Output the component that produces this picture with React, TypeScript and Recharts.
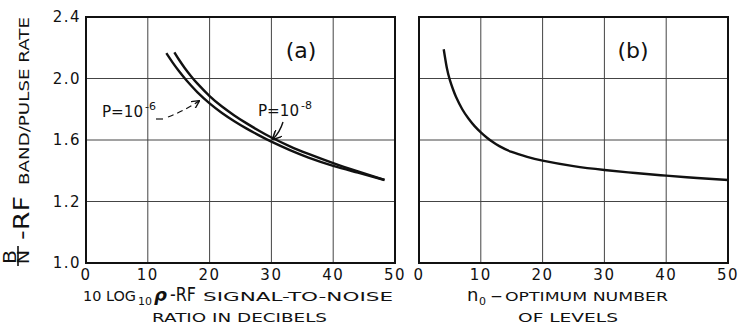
import { LineChart, Line, XAxis, YAxis, CartesianGrid, ReferenceArea } from 'recharts';

// panel (a): RF band/pulse rate vs RF signal-to-noise ratio (dB)
const snrP6 = [13, 14, 15, 16, 17, 18, 20, 22, 24, 26, 28, 30, 33, 36, 40, 44, 48.3];
const rateP6 = [2.165, 2.105, 2.05, 2.0, 1.954, 1.912, 1.838, 1.776, 1.722, 1.674, 1.63, 1.589, 1.534, 1.486, 1.432, 1.388, 1.34];
const snrP8 = [14.3, 15, 16, 17, 18, 20, 22, 24, 26, 28, 30, 33, 36, 40, 44, 48.3];
const rateP8 = [2.17, 2.125, 2.067, 2.015, 1.968, 1.886, 1.818, 1.76, 1.708, 1.66, 1.616, 1.559, 1.51, 1.45, 1.396, 1.34];

// panel (b): RF band/pulse rate vs optimum number of levels
const levels = [4, 4.5, 5, 5.5, 6, 7, 8, 9, 10, 11, 12, 13, 15, 17.5, 20, 25, 30, 35, 40, 45, 50];
const rateLevels = [2.19, 2.07, 1.99, 1.93, 1.88, 1.8, 1.74, 1.69, 1.65, 1.615, 1.585, 1.56, 1.522, 1.49, 1.466, 1.43, 1.405, 1.385, 1.368, 1.353, 1.34];

const xTicks = [0, 10, 20, 30, 40, 50];
// the grid is evenly spaced, the bottom line is printed as 1.0
const yTicks = [0.8, 1.2, 1.6, 2.0, 2.4];
const yTickLabels = ['1.0', '1.2', '1.6', '2.0', '2.4'];

const zip = (xs: number[], ys: number[]) => xs.map((x, i) => ({ x, y: ys[i] }));

const FONT = '"DejaVu Sans", sans-serif';
const INK = '#111';
const tickStyle = { fontSize: 15, fill: INK, fontFamily: FONT, letterSpacing: 1.5 };

function Panel({ series, showY, left, width, margin }: any) {
  return (
    <div style={{ position: 'absolute', left, top: 0 }}>
      <LineChart width={width} height={324} margin={margin}>
        <CartesianGrid stroke="#444" strokeWidth={1} />
        <XAxis
          type="number"
          dataKey="x"
          domain={[0, 50]}
          ticks={xTicks}
          height={30}
          tickSize={0}
          tickMargin={6}
          axisLine={false}
          tick={tickStyle}
          interval={0}
        />
        <YAxis
          type="number"
          domain={[0.8, 2.4]}
          ticks={yTicks}
          width={showY ? 60 : 0}
          hide={!showY}
          tickSize={0}
          tickMargin={5}
          axisLine={false}
          tick={tickStyle}
          interval={0}
          tickFormatter={(v: number) => yTickLabels[yTicks.indexOf(v)]}
        />
        <ReferenceArea x1={0} x2={50} y1={0.8} y2={2.4} fill="none" stroke={INK} strokeWidth={2} ifOverflow="visible" />
        {series.map((d: any, i: number) => (
          <Line
            key={i}
            data={d}
            dataKey="y"
            type="natural"
            stroke={INK}
            strokeWidth={2.4}
            dot={false}
            isAnimationActive={false}
          />
        ))}
      </LineChart>
    </div>
  );
}

function Labels() {
  return (
    <svg width={740} height={324} style={{ position: 'absolute', left: 0, top: 0, pointerEvents: 'none' }} fontFamily={FONT} fill={INK}>
      <defs>
        <marker id="arr" viewBox="0 0 10 10" refX="9" refY="5" markerWidth="7" markerHeight="7" orient="auto-start-reverse">
          <path d="M0,0 L10,5 L0,10" fill="none" stroke={INK} strokeWidth={1.6} />
        </marker>
      </defs>

      {/* y axis title */}
      <g transform="translate(29,265) rotate(-90)">
        <text x={1} y={-13} fontSize={17} textLength={14} lengthAdjust="spacingAndGlyphs">B</text>
        <line x1={-1} y1={-11} x2={19} y2={-11} stroke={INK} strokeWidth={1.6} />
        <text x={1} y={0} fontSize={15} textLength={14} lengthAdjust="spacingAndGlyphs">N</text>
        <text x={25} y={0} fontSize={21} textLength={44} lengthAdjust="spacingAndGlyphs">-RF</text>
        <text x={80} y={0} fontSize={14} textLength={168} lengthAdjust="spacingAndGlyphs">BAND/PULSE RATE</text>
      </g>

      {/* panel tags */}
      <text x={301} y={58} fontSize={22} textAnchor="middle">(a)</text>
      <text x={633} y={58} fontSize={22} textAnchor="middle">(b)</text>

      {/* curve annotations */}
      <text x={102} y={117} fontSize={16} textLength={41} lengthAdjust="spacingAndGlyphs">P=10</text>
      <text x={145} y={110} fontSize={11}>-6</text>
      <path d="M156,119 L163,119" stroke={INK} strokeWidth={1.2} />
      <path d="M168,117 Q184,111 199,101" fill="none" stroke={INK} strokeWidth={1.2} strokeDasharray="6 4" markerEnd="url(#arr)" />
      <text x={258} y={116} fontSize={16} textLength={41} lengthAdjust="spacingAndGlyphs">P=10</text>
      <text x={301} y={109} fontSize={11}>-8</text>
      <path d="M283,122 Q280,132 273,139" fill="none" stroke={INK} strokeWidth={1.4} markerEnd="url(#arr)" />

      {/* x axis titles */}
      <text x={83} y={301} fontSize={14} textLength={53} lengthAdjust="spacingAndGlyphs">10 LOG</text>
      <text x={138} y={305} fontSize={11}>10</text>
      <text x={154} y={301} fontSize={18} fontStyle="italic" fontWeight="bold">ρ</text>
      <text x={170} y={301} fontSize={20} textLength={26} lengthAdjust="spacingAndGlyphs">-RF</text>
      <text x={203} y={301} fontSize={13} textLength={190} lengthAdjust="spacingAndGlyphs">SIGNAL-TO-NOISE</text>
      <text x={152} y={322} fontSize={13} textLength={175} lengthAdjust="spacingAndGlyphs">RATIO IN DECIBELS</text>

      <text x={467} y={301} fontSize={18}>n</text>
      <text x={479} y={305} fontSize={11}>0</text>
      <text x={490} y={301} fontSize={18} textLength={13} lengthAdjust="spacingAndGlyphs">-</text>
      <text x={505} y={301} fontSize={13} textLength={163} lengthAdjust="spacingAndGlyphs">OPTIMUM NUMBER</text>
      <text x={518} y={322} fontSize={13} textLength={100} lengthAdjust="spacingAndGlyphs">OF LEVELS</text>
    </svg>
  );
}

export default function App() {
  return (
    <div style={{ position: 'absolute', left: 0, top: 0, width: 740, height: 324, background: '#fff' }}>
      <Panel
        left={0}
        width={410}
        showY
        margin={{ top: 17, right: 15, bottom: 31, left: 26 }}
        series={[zip(snrP6, rateP6), zip(snrP8, rateP8)]}
      />
      <Panel
        left={400}
        width={340}
        showY={false}
        margin={{ top: 17, right: 12, bottom: 31, left: 19 }}
        series={[zip(levels, rateLevels)]}
      />
      <Labels />
    </div>
  );
}
